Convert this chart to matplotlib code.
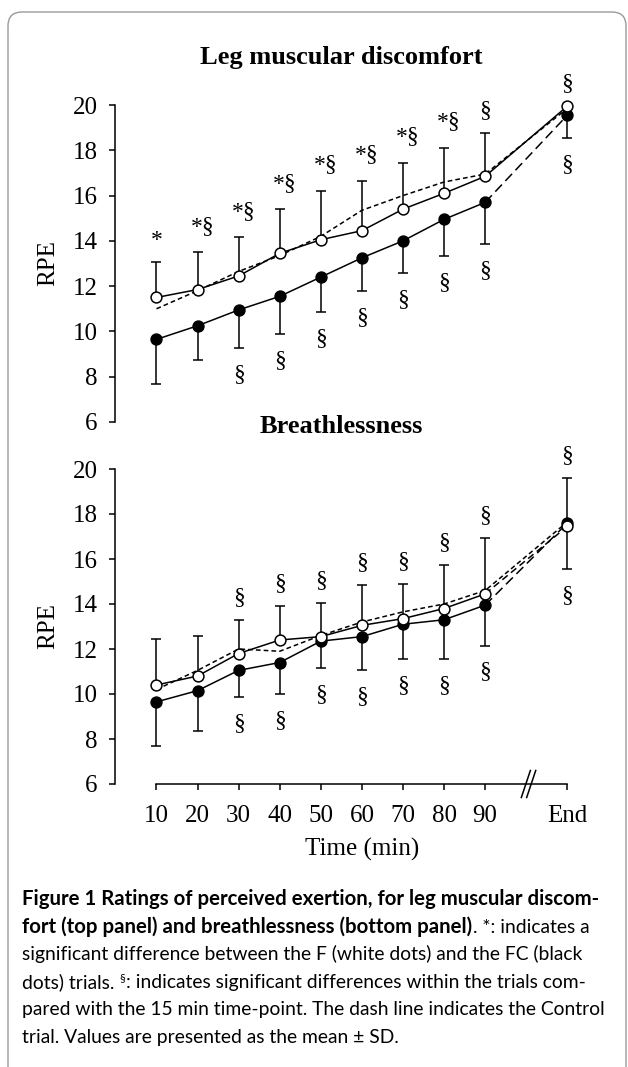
import numpy as np
import matplotlib
matplotlib.use("Agg")
import matplotlib.pyplot as plt
from matplotlib.patches import FancyBboxPatch
from matplotlib.transforms import IdentityTransform

W, H, DPI = 628, 1067, 100

# x categories; slot 9 is left empty for the axis break
TIME_LABELS = ["10", "20", "30", "40", "50", "60", "70", "80", "90", "End"]
TIME_SLOTS = [0, 1, 2, 3, 4, 5, 6, 7, 8, 10]
BREAK_SLOT = 9

# Leg muscular discomfort (RPE)
LEG_F = [11.5, 11.85, 12.45, 13.45, 14.05, 14.45, 15.4, 16.1, 16.85, 19.95]
LEG_F_SD = [1.55, 1.65, 1.7, 1.95, 2.15, 2.2, 2.05, 2.0, 1.9, 0.0]
LEG_FC = [9.65, 10.25, 10.95, 11.55, 12.4, 13.25, 14.0, 14.95, 15.7, 19.55]
LEG_FC_SD = [1.95, 1.5, 1.7, 1.65, 1.55, 1.45, 1.4, 1.6, 1.85, 1.0]
LEG_CONTROL = [11.0, 11.8, 12.65, 13.35, 14.2, 15.35, 16.0, 16.6, 16.95, 19.85]
LEG_ABOVE = ["*", "*§", "*§", "*§", "*§", "*§", "*§", "*§", "§", "§"]
LEG_BELOW = ["", "", "§", "§", "§", "§", "§", "§", "§", "§"]

# Breathlessness (RPE)
BREATH_F = [10.4, 10.8, 11.8, 12.4, 12.55, 13.05, 13.35, 13.8, 14.45, 17.45]
BREATH_F_SD = [2.05, 1.8, 1.5, 1.5, 1.5, 1.8, 1.55, 1.95, 2.5, 2.15]
BREATH_FC = [9.65, 10.15, 11.05, 11.4, 12.35, 12.55, 13.1, 13.3, 13.95, 17.6]
BREATH_FC_SD = [1.95, 1.8, 1.2, 1.4, 1.2, 1.5, 1.55, 1.75, 1.8, 2.05]
BREATH_CONTROL = [10.2, 11.05, 12.0, 11.9, 12.6, 13.2, 13.65, 14.0, 14.6, 17.65]
BREATH_ABOVE = ["", "", "§", "§", "§", "§", "§", "§", "§", "§"]
BREATH_BELOW = ["", "", "§", "§", "§", "§", "§", "§", "§", "§"]

Y_TICKS = [6, 8, 10, 12, 14, 16, 18, 20]

SERIF = "Liberation Serif"
SANS = "Lato"
TICK_FS = 18
TITLE_FS = 19
ANNOT_FS = 17
LW = 1.1

plt.rcParams["font.family"] = SERIF
plt.rcParams["lines.scale_dashes"] = False

fig = plt.figure(figsize=(W / DPI, H / DPI), dpi=DPI)
fig.patch.set_facecolor("white")


def px_axes(left, top, right, bottom):
    return fig.add_axes([left / W, 1 - bottom / H, (right - left) / W, (bottom - top) / H])


def draw_panel(ax, f_vals, f_sd, fc_vals, fc_sd, con_vals, above, below, title, title_y, f_end_dashes):
    x = np.array(TIME_SLOTS, dtype=float)
    f = np.array(f_vals)
    fc = np.array(fc_vals)
    f_top = f + np.array(f_sd)
    fc_bot = fc - np.array(fc_sd)

    ax.plot(x, con_vals, color="black", lw=LW, dashes=(3.4, 2.2), zorder=2, clip_on=False)
    ax.plot(x[:-1], f[:-1], color="black", lw=LW, zorder=3)
    ax.plot(x[:-1], fc[:-1], color="black", lw=LW, zorder=3)
    if f_end_dashes is None:
        ax.plot(x[-2:], f[-2:], color="black", lw=LW, zorder=3, clip_on=False)
    else:
        ax.plot(x[-2:], f[-2:], color="black", lw=LW, dashes=f_end_dashes, zorder=3, clip_on=False)
    ax.plot(x[-2:], fc[-2:], color="black", lw=LW, dashes=(7, 3.6), zorder=3, clip_on=False)

    # one-sided SD bars: up for F, down for FC
    ax.vlines(x, f, f_top, color="black", lw=LW, zorder=2.5, clip_on=False)
    ax.vlines(x, fc_bot, fc, color="black", lw=LW, zorder=2.5, clip_on=False)
    ax.plot(x, f_top, ls="none", marker="_", ms=7.2, mew=LW, color="black", zorder=2.5, clip_on=False)
    ax.plot(x, fc_bot, ls="none", marker="_", ms=7.2, mew=LW, color="black", zorder=2.5, clip_on=False)

    ax.plot(x, fc, ls="none", marker="o", ms=7.8, mfc="black", mec="black", mew=LW, zorder=4, clip_on=False)
    ax.plot(x, f, ls="none", marker="o", ms=7.8, mfc="white", mec="black", mew=LW, zorder=5, clip_on=False)

    up_off = {"*": 0.95, "*§": 1.15, "§": 1.0}
    for xi, yt, lab in zip(x, f_top, above):
        if not lab:
            continue
        if lab == "*§":
            ax.annotate(lab, (xi, yt + up_off[lab]), xytext=(-5, 0), textcoords="offset points",
                        ha="left", va="center", fontsize=ANNOT_FS, annotation_clip=False)
        else:
            ax.annotate(lab, (xi, yt + up_off[lab]), ha="center", va="center", fontsize=ANNOT_FS,
                        annotation_clip=False)
    for xi, yb, lab in zip(x, fc_bot, below):
        if lab:
            ax.annotate(lab, (xi, yb - 1.17), ha="center", va="center", fontsize=ANNOT_FS,
                        annotation_clip=False)

    ax.set_xlim(-1.01, 10.6)
    ax.set_ylim(6, 20)
    ax.set_yticks(Y_TICKS)
    ax.tick_params(axis="y", direction="out", length=4.5, width=LW, pad=8, labelsize=TICK_FS)
    for side in ("top", "right"):
        ax.spines[side].set_visible(False)
    ax.spines["left"].set_linewidth(LW)
    ax.spines["left"].set_bounds(6, 20)
    ax.patch.set_alpha(0)

    ax.text(0.474, title_y, title, transform=ax.transAxes, ha="center", va="center",
            fontsize=TITLE_FS, fontweight="bold")
    ax.text(-0.14, 0.5, "RPE", transform=ax.transAxes, rotation=90, ha="center", va="center",
            fontsize=TICK_FS)


ax_top = px_axes(115, 105, 592, 422)
ax_bot = px_axes(115, 469, 592, 784)

draw_panel(ax_top, LEG_F, LEG_F_SD, LEG_FC, LEG_FC_SD, LEG_CONTROL, LEG_ABOVE, LEG_BELOW,
           "Leg muscular discomfort", 1.15, None)
draw_panel(ax_bot, BREATH_F, BREATH_F_SD, BREATH_FC, BREATH_FC_SD, BREATH_CONTROL,
           BREATH_ABOVE, BREATH_BELOW, "Breathlessness", 1.135, (5, 3))

ax_top.spines["bottom"].set_visible(False)
ax_top.set_xticks([])

ax_bot.spines["bottom"].set_linewidth(LW)
ax_bot.spines["bottom"].set_bounds(TIME_SLOTS[0], TIME_SLOTS[-1])
ax_bot.set_xticks(TIME_SLOTS)
ax_bot.set_xticklabels(TIME_LABELS)
ax_bot.tick_params(axis="x", direction="out", length=4.5, width=LW, pad=10.5, labelsize=TICK_FS)

# axis break "//"
for shift in (0.0, 0.13):
    ax_bot.plot([BREAK_SLOT - 0.12 + shift, BREAK_SLOT + 0.1 + shift], [5.4, 6.6],
                color="black", lw=LW, clip_on=False, zorder=6)

ax_bot.annotate("Time (min)", xy=((TIME_SLOTS[0] + TIME_SLOTS[-1]) / 2, 0),
                xycoords=("data", "axes fraction"), xytext=(0, -47), textcoords="offset points",
                ha="center", va="center", fontsize=TICK_FS)

# rounded frame around the figure, open at the bottom
frame = FancyBboxPatch((8, -40), 618, H - 12 + 40, boxstyle="round,pad=0,rounding_size=14",
                       transform=IdentityTransform(), facecolor="none", edgecolor="#9a9a9a", lw=1.0)
fig.add_artist(frame)

# caption
renderer = fig.canvas.get_renderer()


def text_width(s, **kw):
    t = fig.text(0, 0, s, **kw)
    w = t.get_window_extent(renderer).width
    t.remove()
    return w


CAPTION = [
    [("Figure 1 Ratings of perceived exertion, for leg muscular discom-", "bold", 0)],
    [("fort (top panel) and breathlessness (bottom panel)", "bold", 0), (". *: indicates a", "normal", 0)],
    [("significant difference between the F (white dots) and the FC (black", "normal", 0)],
    [("dots) trials.", "normal", 0), ("§", "sup", 1), (": indicates significant differences within the trials com-", "normal", 0)],
    [("pared with the 15 min time-point. The dash line indicates the Control", "normal", 0)],
    [("trial. Values are presented as the mean ± SD.", "normal", 0)],
]

cap_fs = 13.0
w_ref = text_width(CAPTION[2][0][0], family=SANS, fontsize=cap_fs)
cap_fs = cap_fs * 560 / w_ref
w_bold = text_width(CAPTION[0][0][0], family=SANS, fontsize=cap_fs, fontweight="bold")
bold_fs = min(cap_fs * 583 / w_bold, cap_fs * 1.06)
space_w = text_width("a a", family=SANS, fontsize=cap_fs) - text_width("aa", family=SANS, fontsize=cap_fs)

for i, parts in enumerate(CAPTION):
    base = H - (905 + i * 27.6)
    xpos = 22
    for txt, style, gap in parts:
        xpos += gap * space_w
        if style == "sup":
            t = fig.text(xpos, base + cap_fs * 0.45, txt, transform=IdentityTransform(), family=SANS,
                         fontsize=cap_fs * 0.6, va="baseline", ha="left")
        elif style == "bold":
            t = fig.text(xpos, base, txt, transform=IdentityTransform(), family=SANS,
                         fontsize=bold_fs, fontweight="bold", va="baseline", ha="left")
        else:
            t = fig.text(xpos, base, txt, transform=IdentityTransform(), family=SANS,
                         fontsize=cap_fs, va="baseline", ha="left")
        xpos = t.get_window_extent(renderer).x1 + 0.5

fig.savefig("out.png", dpi=DPI, facecolor="white")
plt.close(fig)
